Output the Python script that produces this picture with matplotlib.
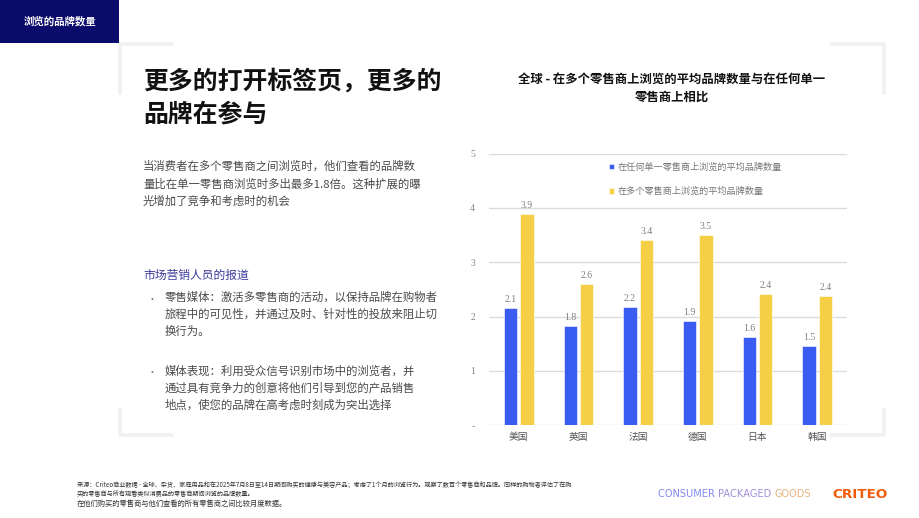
import numpy as np
import matplotlib
matplotlib.use("Agg")
from matplotlib import pyplot as plt
from matplotlib.patches import Rectangle
from matplotlib.lines import Line2D

plt.rcParams['font.family'] = ['Noto Sans CJK SC', 'DejaVu Sans']

# ---- data ----
countries = ['美国', '英国', '法国', '德国', '日本', '韩国']
single_retailer = [2.15, 1.83, 2.17, 1.92, 1.62, 1.46]
multi_retailer = [3.89, 2.60, 3.40, 3.50, 2.41, 2.38]
single_labels = ['2.1', '1.8', '2.2', '1.9', '1.6', '1.5']
multi_labels = ['3.9', '2.6', '3.4', '3.5', '2.4', '2.4']
series_names = ['在任何单一零售商上浏览的平均品牌数量', '在多个零售商上浏览的平均品牌数量']
y_ticks = [0, 1, 2, 3, 4, 5]
y_ticklabels = ['-', '1', '2', '3', '4', '5']

W, H = 920, 518
fig = plt.figure(figsize=(W / 100, H / 100), dpi=100)
fig.patch.set_facecolor('white')


def px(x, y):
    return x / W, 1 - y / H


def ftext(x, y, s, **kw):
    kw.setdefault('va', 'center')
    return fig.text(*px(x, y), s, **kw)


# header block
fig.patches.append(Rectangle(px(0, 43), 119 / W, 43 / H, transform=fig.transFigure,
                             facecolor='#0b0b6b', edgecolor='none', zorder=0))
ftext(60, 21, '浏览的品牌数量', color='white', fontsize=7.5, fontweight='bold', ha='center')

# light corner brackets
bc = '#f1f1f1'
for xs, ys in [((172, 120, 120), (44, 44, 93)),
               ((832, 884, 884), (44, 44, 93)),
               ((172, 120, 120), (435, 435, 410)),
               ((832, 884, 884), (435, 435, 410))]:
    fx = [x / W for x in xs]
    fy = [1 - y / H for y in ys]
    fig.lines.append(Line2D(fx, fy, transform=fig.transFigure, color=bc, lw=2.6,
                            solid_joinstyle='miter', zorder=0))

# left column text
ftext(143, 81, '更多的打开标签页，更多的', fontsize=17.9, fontweight='bold', color='#111111')
ftext(143, 115, '品牌在参与', fontsize=17.9, fontweight='bold', color='#111111')

body = ['当消费者在多个零售商之间浏览时，他们查看的品牌数',
        '量比在单一零售商浏览时多出最多1.8倍。这种扩展的曝',
        '光增加了竞争和考虑时的机会']
for i, line in enumerate(body):
    ftext(143, 166 + i * 17.6, line, fontsize=8.2, color='#4a4a4a')

ftext(143, 275, '市场营销人员的报道', fontsize=8.5, color='#3a3a9a')

bullet1 = ['零售媒体：激活多零售商的活动，以保持品牌在购物者',
           '旅程中的可见性，并通过及时、针对性的投放来阻止切',
           '换行为。']
bullet2 = ['媒体表现：利用受众信号识别市场中的浏览者，并',
           '通过具有竞争力的创意将他们引导到您的产品销售',
           '地点，使您的品牌在高考虑时刻成为突出选择']
for start, lines in [(297, bullet1), (370.5, bullet2)]:
    ftext(148, start + 2, '·', fontsize=6.5, color='#666666')
    for i, line in enumerate(lines):
        ftext(165, start + i * 17.2, line, fontsize=8.2, color='#4a4a4a')

# chart title
ftext(671.5, 79, '全球 - 在多个零售商上浏览的平均品牌数量与在任何单一', fontsize=8.9,
      fontweight='bold', color='#111111', ha='center')
ftext(671.5, 97, '零售商上相比', fontsize=8.9, fontweight='bold', color='#111111', ha='center')

# chart
ax = fig.add_axes([489 / W, 1 - 425.3 / H, 358 / W, (425.3 - 153.5) / H])
x = np.arange(len(countries))
bw = 0.225
off = 0.138
b1 = ax.bar(x - off, single_retailer, bw, color='#3a5cf0', edgecolor='white', linewidth=0.4,
            label=series_names[0], zorder=3)
b2 = ax.bar(x + off, multi_retailer, bw, color='#f5d047', edgecolor='white', linewidth=0.4,
            label=series_names[1], zorder=3)
ax.bar_label(b1, labels=single_labels, padding=3, fontsize=7, color='#808080',
             family='Liberation Serif')
ax.bar_label(b2, labels=multi_labels, padding=3, fontsize=7, color='#808080',
             family='Liberation Serif')

ax.set_xlim(-0.5, len(countries) - 0.5)
ax.set_ylim(0, 5)
ax.set_yticks(y_ticks)
ax.set_yticklabels(y_ticklabels, family='Liberation Serif', fontsize=7, color='#888888')
ax.set_xticks(x)
ax.set_xticklabels(countries, fontsize=7, color='#555555')
ax.tick_params(axis='y', length=0, pad=10)
ax.tick_params(axis='x', length=0, pad=5)
ax.grid(axis='y', color='#dcdcdc', lw=1, zorder=0)
for s in ax.spines.values():
    s.set_visible(False)
ax.set_facecolor('none')

fig.legend(handles=[b1, b2], labels=series_names, loc='upper left',
           bbox_to_anchor=px(604, 158), frameon=False, fontsize=6.6,
           labelcolor='#777777', handlelength=0.6, handleheight=0.6,
           handletextpad=0.35, labelspacing=1.65, borderpad=0)

# footer
foot = ['来源：Criteo商业数据 - 全球、杂货、家庭用品和在2025年7月8日至14日期间购买的健康与美容产品；考虑了1个月的浏览行为。观察了数百个零售商和品牌。同样的购物者评估了在购',
        '买的零售商与所有观看类似消费品的零售商期间浏览的品牌数量。']
ftext(77, 485, foot[0], fontsize=4.45, color='#333333')
ftext(77, 494, foot[1], fontsize=4.45, color='#333333')
ftext(77, 503.5, '在他们购买的零售商与他们查看的所有零售商之间比较月度数据。', fontsize=5.25, color='#333333')

# logos
t1 = ftext(658, 494, 'CONSUMER ', fontsize=7.1, color='#7d88f2', family='DejaVu Sans')
t2 = ax.annotate('PACKAGED ', xy=(1, 0), xycoords=t1, va='bottom', fontsize=7.1,
                 color='#a18fdc', family='DejaVu Sans', annotation_clip=False)
t3 = ax.annotate('GOODS', xy=(1, 0), xycoords=t2, va='bottom', fontsize=7.1,
                 color='#e7b27c', family='DejaVu Sans', annotation_clip=False)
ftext(832, 494, 'CRITEO', fontsize=9.7, fontweight='heavy', color='#f45a0c',
      family='DejaVu Sans')

fig.savefig('out.png', dpi=100)
